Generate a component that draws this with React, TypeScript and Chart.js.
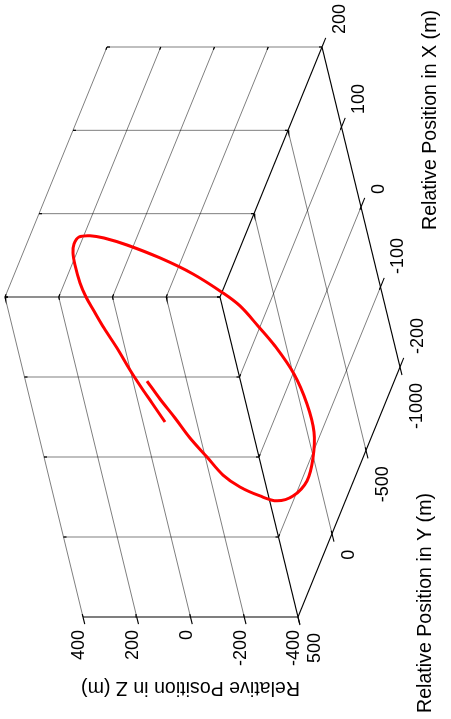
import React, { useEffect, useRef } from "react";
import { Chart, registerables } from "chart.js";

Chart.register(...registerables);

const W = 451;
const H = 719;

// Axis ticks (data units)
const X_TICKS = [-200, -100, 0, 100, 200];
const Y_TICKS = [-1000, -500, 0, 500];
const Z_TICKS = [-400, -200, 0, 200, 400];

const X_TITLE = "Relative Position in X (m)";
const Y_TITLE = "Relative Position in Y (m)";
const Z_TITLE = "Relative Position in Z (m)";

// Relative trajectory (m)
const PATH_X = [8.0, -12.5, -35.4, -61.2, -87.8, -115.8, -137.2, -157.2, -178.2, -188.9, -188.0, -175.9, -156.5, -131.7, -101.9, -71.3, -47.7, -22.6, -5.3, 22.0, 47.8, 72.6, 90.8, 104.2, 111.1, 115.9, 114.9, 109.9, 98.9, 88.5, 77.1, 61.9, 42.7, 20.0, 1.3, -17.2, -40.4];
const PATH_Y = [82.5, 92.1, 96.0, 92.1, 78.7, 52.4, 21.2, -20.8, -92.3, -172.5, -258.7, -338.3, -401.2, -450.3, -487.1, -508.2, -515.2, -514.7, -509.4, -492.3, -464.7, -423.5, -378.4, -327.7, -286.7, -221.8, -172.7, -124.4, -69.4, -35.1, -6.1, 23.4, 51.1, 74.0, 86.3, 93.4, 95.9];
const PATH_Z = [116.6, 80.7, 40.4, 4.4, -36.2, -68.8, -108.6, -157.9, -187.8, -219.3, -250.2, -261.2, -263.1, -242.6, -206.5, -152.7, -104.8, -56.1, -6.8, 80.7, 177.8, 272.2, 333.1, 362.6, 388.2, 386.9, 378.9, 362.9, 338.3, 314.9, 286.1, 252.4, 211.0, 173.3, 142.8, 113.5, 81.3];

const XMIN = X_TICKS[0], XMAX = X_TICKS[X_TICKS.length - 1];
const YMIN = Y_TICKS[0], YMAX = Y_TICKS[Y_TICKS.length - 1];
const ZMIN = Z_TICKS[0], ZMAX = Z_TICKS[Z_TICKS.length - 1];

// Camera (orthographic 3-D view, figure turned on its side)
const ORIGIN = { x: 185.5, y: 373.67 };
const EX = [-0.195, -0.8];
const EY = [-0.068, 0.16667];
const EZ = [-0.26875, 0];

type P3 = [number, number, number];

function proj(p: P3) {
  return {
    x: ORIGIN.x + p[0] * EX[0] + p[1] * EY[0] + p[2] * EZ[0],
    y: ORIGIN.y + p[0] * EX[1] + p[1] * EY[1] + p[2] * EZ[1],
  };
}

const GRID = "rgba(0,0,0,0.5)";
const DARK = "#000000";

function seg(a: P3, b: P3, color: string, width: number, order: number) {
  return {
    data: [proj(a), proj(b)],
    showLine: true,
    borderColor: color,
    backgroundColor: color,
    borderWidth: width,
    pointRadius: 0,
    tension: 0,
    fill: false,
    order,
  };
}

function lerp3(a: P3, b: P3, t: number): P3 {
  return [a[0] + (b[0] - a[0]) * t, a[1] + (b[1] - a[1]) * t, a[2] + (b[2] - a[2]) * t];
}

function buildDatasets() {
  const ds: any[] = [];
  const gridLines: [P3, P3][] = [];
  const darkLines: [P3, P3][] = [];

  // wall X = XMAX
  Y_TICKS.forEach((y) => gridLines.push([[XMAX, y, ZMIN], [XMAX, y, ZMAX]]));
  Z_TICKS.forEach((z) => {
    const l: [P3, P3] = [[XMAX, YMIN, z], [XMAX, YMAX, z]];
    (z === ZMIN ? darkLines : gridLines).push(l);
  });
  // wall Y = YMAX
  X_TICKS.forEach((x) => {
    const l: [P3, P3] = [[x, YMAX, ZMIN], [x, YMAX, ZMAX]];
    (x === XMIN ? darkLines : gridLines).push(l);
  });
  Z_TICKS.forEach((z) => {
    const l: [P3, P3] = [[XMIN, YMAX, z], [XMAX, YMAX, z]];
    (z === ZMIN ? darkLines : gridLines).push(l);
  });
  // floor Z = ZMIN
  X_TICKS.forEach((x) => {
    if (x === XMAX) return;
    const l: [P3, P3] = [[x, YMIN, ZMIN], [x, YMAX, ZMIN]];
    (x === XMIN ? darkLines : gridLines).push(l);
  });
  Y_TICKS.forEach((y) => {
    if (y === YMAX) return;
    const l: [P3, P3] = [[XMIN, y, ZMIN], [XMAX, y, ZMIN]];
    (y === YMIN ? darkLines : gridLines).push(l);
  });

  // trajectory on top
  ds.push({
    data: PATH_X.map((x, i) => proj([x, PATH_Y[i], PATH_Z[i]])),
    showLine: true,
    borderColor: "#ff0000",
    backgroundColor: "#ff0000",
    borderWidth: 3,
    pointRadius: 0,
    tension: 0.35,
    fill: false,
    order: 0,
  });

  gridLines.forEach(([a, b]) => {
    ds.push(seg(a, b, GRID, 1, 5));
    const pa = proj(a), pb = proj(b);
    const len = Math.hypot(pb.x - pa.x, pb.y - pa.y);
    const t = 3 / len;
    ds.push(seg(a, lerp3(a, b, t), DARK, 1.2, 4));
    ds.push(seg(b, lerp3(b, a, t), DARK, 1.2, 4));
  });
  darkLines.forEach(([a, b]) => ds.push(seg(a, b, DARK, 1.1, 3)));

  // outward ticks on the three axes
  X_TICKS.forEach((x) => ds.push(seg([x, YMIN, ZMIN], [x, YMIN - 55, ZMIN], DARK, 1.1, 3)));
  Y_TICKS.forEach((y) => ds.push(seg([XMIN, y, ZMIN], [XMIN - 10, y, ZMIN], DARK, 1.1, 3)));
  Z_TICKS.forEach((z) => ds.push(seg([XMIN, YMAX, z], [XMIN - 9, YMAX, z], DARK, 1.1, 3)));

  return ds;
}

const FONT = '"Liberation Sans", Arial, Helvetica, sans-serif';

const labelPlugin = {
  id: "labels3d",
  afterDatasetsDraw(chart: any) {
    const ctx = chart.ctx as CanvasRenderingContext2D;
    const sx = chart.scales.x;
    const sy = chart.scales.y;
    const px = (p: P3) => {
      const q = proj(p);
      return { x: sx.getPixelForValue(q.x), y: sy.getPixelForValue(q.y) };
    };
    const text = (t: string, x: number, y: number, rot: number, align: CanvasTextAlign, size: number, baseline: CanvasTextBaseline = "middle") => {
      ctx.save();
      ctx.translate(x, y);
      ctx.rotate(rot);
      ctx.font = `${size}px ${FONT}`;
      ctx.fillStyle = "#000";
      ctx.textAlign = align;
      ctx.textBaseline = baseline;
      ctx.fillText(t, 0, 0);
      ctx.restore();
    };
    const up = -Math.PI / 2;

    X_TICKS.forEach((x) => {
      const p = px([x, YMIN, ZMIN]);
      text(String(x), p.x + 18, p.y - 13, up, "left", 18);
    });
    Y_TICKS.forEach((y) => {
      const p = px([XMIN, y, ZMIN]);
      text(String(y), p.x + 17, p.y + 16, up, "right", 18);
    });
    Z_TICKS.forEach((z) => {
      const p = px([XMIN, YMAX, z]);
      text(String(z), p.x - 3.5, p.y + 13, up, "right", 18);
    });

    const xm = px([0, YMIN, ZMIN]);
    text(X_TITLE, xm.x + 75, xm.y - 87, up, "center", 19.6, "alphabetic");
    const ym = px([XMIN, (YMIN + YMAX) / 2, ZMIN]);
    text(Y_TITLE, ym.x + 82, ym.y + 111, up, "center", 19.6, "alphabetic");
    const zm = px([XMIN, YMAX, 0]);
    text(Z_TITLE, zm.x, zm.y + 65, Math.PI, "center", 19.6, "alphabetic");
  },
};

export default function App() {
  const ref = useRef<HTMLCanvasElement | null>(null);

  useEffect(() => {
    document.body.style.margin = "0";
    const canvas = ref.current;
    if (!canvas) return;
    const chart = new Chart(canvas, {
      type: "scatter",
      data: { datasets: buildDatasets() },
      options: {
        animation: false,
        responsive: false,
        devicePixelRatio: 1,
        events: [],
        layout: { padding: 0 },
        plugins: {
          legend: { display: false },
          tooltip: { enabled: false },
          title: { display: false },
        },
        scales: {
          x: { type: "linear", display: false, min: 0, max: W },
          y: { type: "linear", display: false, min: 0, max: H, reverse: true },
        },
      },
      plugins: [labelPlugin],
    } as any);
    return () => chart.destroy();
  }, []);

  return (
    <div style={{ position: "absolute", left: 0, top: 0, width: W, height: H, background: "#fff" }}>
      <canvas ref={ref} width={W} height={H} style={{ display: "block", width: W, height: H }} />
    </div>
  );
}
